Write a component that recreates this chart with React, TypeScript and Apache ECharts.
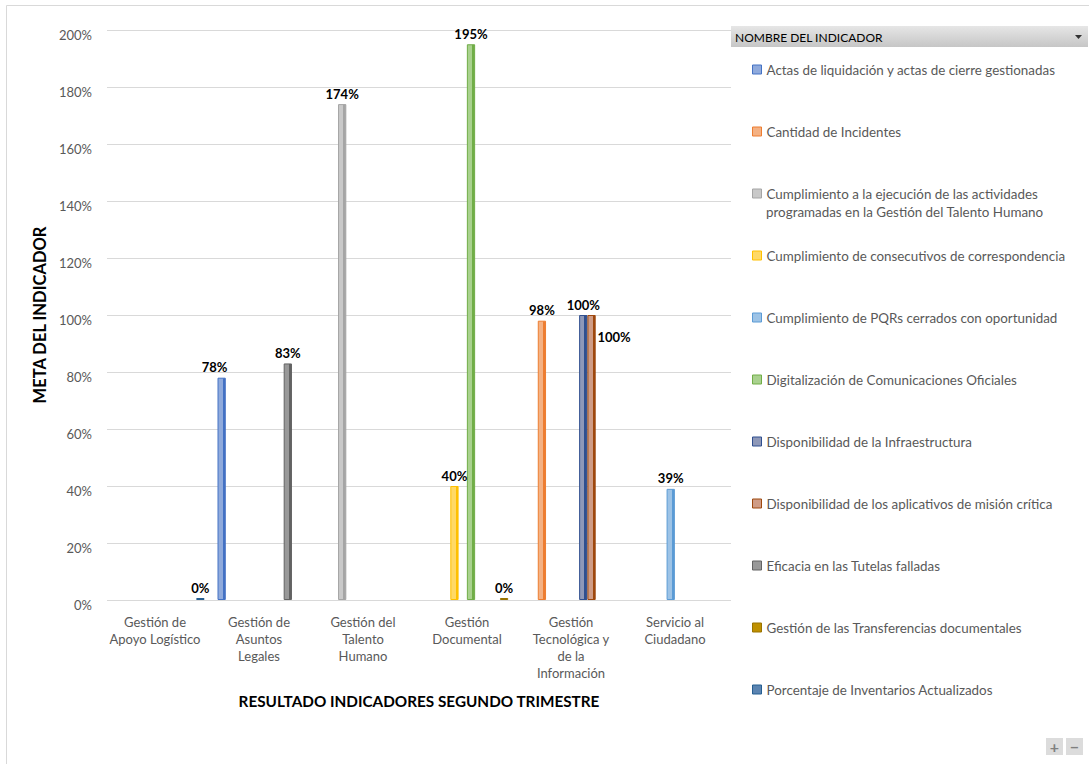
import React, { useEffect, useRef } from "react";
import * as echarts from "echarts";

const categories = [
  "Gestión de\nApoyo Logístico",
  "Gestión de\nAsuntos\nLegales",
  "Gestión del\nTalento\nHumano",
  "Gestión\nDocumental",
  "Gestión\nTecnológica y\nde la\nInformación",
  "Servicio al\nCiudadano",
];

const seriesNames = [
  "Actas de liquidación y actas de cierre gestionadas",
  "Cantidad de Incidentes",
  "Cumplimiento a la ejecución de las actividades programadas en la Gestión del Talento Humano",
  "Cumplimiento de consecutivos de correspondencia",
  "Cumplimiento de PQRs cerrados con oportunidad",
  "Digitalización de Comunicaciones Oficiales",
  "Disponibilidad de la Infraestructura",
  "Disponibilidad de los aplicativos de misión crítica",
  "Eficacia en las Tutelas falladas",
  "Gestión de las Transferencias documentales",
  "Porcentaje de Inventarios Actualizados",
];

// legend line split for the long name
const longNameLine1 = "Cumplimiento a la ejecución de las actividades";
const longNameLine2 = "programadas en la Gestión del Talento Humano";

// values in % per category (null = no bar)
const actas = [null, 78, null, null, null, null];
const cantidadIncidentes = [null, null, null, null, 98, null];
const cumplimientoTalento = [null, null, 174, null, null, null];
const consecutivos = [null, null, null, 40, null, null];
const pqrs = [null, null, null, null, null, 39];
const digitalizacion = [null, null, null, 195, null, null];
const infraestructura = [null, null, null, null, 100, null];
const aplicativos = [null, null, null, null, 100, null];
const tutelas = [null, 83, null, null, null, null];
const transferencias = [null, null, null, 0, null, null];
const inventarios = [0, null, null, null, null, null];

const seriesValues = [
  actas,
  cantidadIncidentes,
  cumplimientoTalento,
  consecutivos,
  pqrs,
  digitalizacion,
  infraestructura,
  aplicativos,
  tutelas,
  transferencias,
  inventarios,
];

const yMin = 0;
const yMax = 200;
const yInterval = 20;

// styles
const baseColors = [
  "#4472c4", "#ed7d31", "#a5a5a5", "#ffc000", "#5b9bd5", "#70ad47",
  "#2f4f8f", "#9e480e", "#636363", "#997300", "#255e91",
];
const frontColors = [
  "#8faadc", "#f4b183", "#c9c9c9", "#ffd966", "#9dc3e6", "#a9d18e",
  "#8e98b8", "#cf9c86", "#999999", "#bf9000", "#5b84b1",
];

const FONT = "Lato, 'Open Sans', sans-serif";
const LEGEND_FONT_SIZE = 13.4;

export default function App() {
  const ref = useRef<HTMLDivElement>(null);

  useEffect(() => {
    if (!ref.current) return;
    const chart = echarts.init(ref.current, null, { renderer: "svg" });

    const series = seriesNames.map((name, i) => {
      const label: any = {
        show: true,
        position: "top",
        distance: 4,
        formatter: "{c}%",
        color: "#000",
        fontWeight: "bold",
        fontSize: 13,
        fontFamily: FONT,
      };
      if (i === 7) {
        label.position = [10, 22];
        label.align = "left";
        label.verticalAlign = "middle";
      }
      if (i === 0) {
        label.offset = [-7, 0];
      }
      return {
        name,
        type: "bar",
        data: seriesValues[i],
        barGap: "0%",
        barCategoryGap: "12.5%",
        barMinHeight: 2,
        itemStyle: {
          color: {
            type: "linear",
            x: 0,
            y: 0,
            x2: 1,
            y2: 0,
            colorStops: [
              { offset: 0, color: frontColors[i] },
              { offset: 0.66, color: frontColors[i] },
              { offset: 0.66, color: baseColors[i] },
              { offset: 1, color: baseColors[i] },
            ],
          },
          borderColor: baseColors[i],
          borderWidth: 1,
        },
        label,
      };
    });

    const legends = seriesNames.map((name, i) => {
      const twoLine = i === 2;
      return {
        data: [name],
        orient: "vertical",
        left: 752,
        top: 63 + 62 * i,
        icon: "rect",
        itemWidth: 9,
        itemHeight: 9,
        itemGap: 0,
        padding: 0,
        selectedMode: false,
        itemStyle: {
          color: frontColors[i],
          borderColor: baseColors[i],
          borderWidth: 1,
        },
        formatter: twoLine ? () => longNameLine1 : undefined,
        textStyle: {
          color: "#595959",
          fontSize: LEGEND_FONT_SIZE,
          fontFamily: FONT,
        },
      };
    });

    chart.setOption({
      animation: false,
      backgroundColor: "#ffffff",
      grid: {
        left: 107,
        right: 358,
        top: 30,
        bottom: 164,
        containLabel: false,
      },
      legend: legends,
      xAxis: {
        type: "category",
        data: categories,
        axisLine: { show: false },
        axisTick: { show: false },
        axisLabel: {
          color: "#595959",
          fontSize: 13,
          fontFamily: FONT,
          lineHeight: 17,
          margin: 13,
          interval: 0,
          padding: [0, 8, 0, 0],
        },
        name: "RESULTADO INDICADORES SEGUNDO TRIMESTRE",
        nameLocation: "middle",
        nameGap: 93,
        nameTextStyle: {
          color: "#000",
          fontWeight: "bold",
          fontSize: 15.3,
          fontFamily: FONT,
        },
      },
      yAxis: {
        type: "value",
        min: yMin,
        max: yMax,
        interval: yInterval,
        axisLine: { show: false },
        axisTick: { show: false },
        splitLine: { lineStyle: { color: "#d9d9d9", width: 1 } },
        axisLabel: {
          formatter: "{value}%",
          color: "#595959",
          fontSize: 13,
          fontFamily: FONT,
          margin: 15,
          verticalAlign: "top",
          lineHeight: 10,
        },
        name: "META DEL INDICADOR",
        nameLocation: "middle",
        nameGap: 50,
        nameTextStyle: {
          color: "#000",
          fontWeight: "bold",
          fontSize: 16.5,
          fontFamily: FONT,
        },
      },
      graphic: [
        {
          type: "rect",
          shape: { x: 6.5, y: 5.5, width: 1100, height: 800 },
          style: { fill: "none", stroke: "#d9d9d9", lineWidth: 1 },
          silent: true,
          z: -10,
        },
        {
          type: "text",
          x: 766,
          y: 212,
          style: {
            text: longNameLine2,
            fill: "#595959",
            fontSize: LEGEND_FONT_SIZE,
            fontFamily: FONT,
            verticalAlign: "middle",
          },
          silent: true,
        },
        {
          type: "rect",
          shape: { x: 731, y: 26, width: 357, height: 21 },
          style: {
            fill: {
              type: "linear",
              x: 0,
              y: 0,
              x2: 0,
              y2: 1,
              colorStops: [
                { offset: 0, color: "#e6e6e6" },
                { offset: 1, color: "#c6c6c6" },
              ],
            },
          },
          silent: true,
        },
        {
          type: "text",
          x: 735,
          y: 37,
          style: {
            text: "NOMBRE DEL INDICADOR",
            fill: "#000",
            fontSize: 12,
            fontFamily: FONT,
            verticalAlign: "middle",
          },
          silent: true,
        },
        {
          type: "polygon",
          shape: { points: [[1075, 35], [1082, 35], [1078.5, 39]] },
          style: { fill: "#333" },
          silent: true,
        },
        {
          type: "rect",
          shape: { x: 1046, y: 738, width: 17, height: 17 },
          style: { fill: "#dcdcdc" },
          silent: true,
        },
        {
          type: "rect",
          shape: { x: 1066, y: 738, width: 17, height: 17 },
          style: { fill: "#dcdcdc" },
          silent: true,
        },
        {
          type: "text",
          x: 1054.5,
          y: 746.5,
          style: {
            text: "+",
            fill: "#7f7f7f",
            fontSize: 16,
            fontWeight: "bold",
            fontFamily: FONT,
            align: "center",
            verticalAlign: "middle",
          },
          silent: true,
        },
        {
          type: "text",
          x: 1074.5,
          y: 746.5,
          style: {
            text: "−",
            fill: "#7f7f7f",
            fontSize: 16,
            fontWeight: "bold",
            fontFamily: FONT,
            align: "center",
            verticalAlign: "middle",
          },
          silent: true,
        },
      ],
      series,
    });

    return () => chart.dispose();
  }, []);

  return (
    <div
      ref={ref}
      style={{ position: "fixed", left: 0, top: 0, width: 1089, height: 764 }}
    />
  );
}
